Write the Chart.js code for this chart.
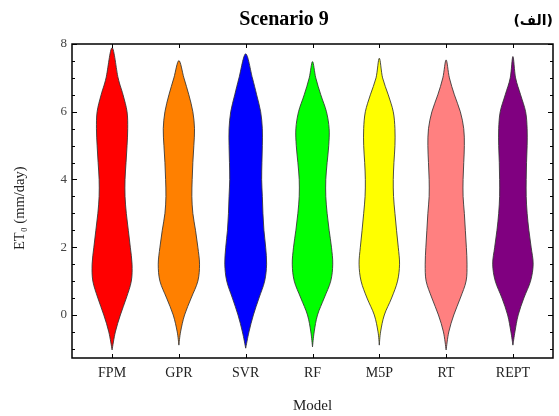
<!DOCTYPE html>
<html>
<head>
<meta charset="utf-8">
<script src="https://cdn.jsdelivr.net/npm/chart.js@4"></script>
<style>
  html, body { margin: 0; padding: 0; background: #fff; }
  #wrap { width: 559px; height: 416px; }
</style>
</head>
<body>
<div id="wrap"><canvas id="violinChart"></canvas></div>
<script>
// категории и цвета
const categories = ['FPM', 'GPR', 'SVR', 'RF', 'M5P', 'RT', 'REPT'];
const colors = ['#ff0000', '#ff8000', '#0000ff', '#00ff00', '#ffff00', '#ff8080', '#800080'];

// уровни ET0, на которых прочитана ширина (полуширина в единицах оси X)
const levels = [7.0, 6.5, 6.0, 5.5, 5.0, 4.5, 4.0, 3.5, 3.0, 2.5, 2.0, 1.5, 1.0, 0.5, 0.0, -0.5];
const topTips = [7.89, 7.51, 7.71, 7.48, 7.58, 7.53, 7.63];
const bottomTips = [-1.03, -0.89, -0.98, -0.94, -0.89, -1.03, -0.89];

const widthFPM  = [0.090, 0.164, 0.224, 0.234, 0.224, 0.209, 0.194, 0.194, 0.213, 0.243, 0.273, 0.299, 0.288, 0.213, 0.124, 0.049];
const widthGPR  = [0.075, 0.149, 0.209, 0.234, 0.224, 0.209, 0.199, 0.194, 0.209, 0.249, 0.284, 0.309, 0.284, 0.184, 0.085, 0.025];
const widthSVR  = [0.100, 0.164, 0.224, 0.249, 0.249, 0.243, 0.239, 0.249, 0.258, 0.273, 0.299, 0.313, 0.284, 0.199, 0.115, 0.049];
const widthRF   = [0.049, 0.124, 0.209, 0.249, 0.243, 0.219, 0.199, 0.199, 0.219, 0.249, 0.284, 0.303, 0.273, 0.175, 0.075, 0.025];
const widthM5P  = [0.049, 0.134, 0.209, 0.234, 0.234, 0.219, 0.209, 0.213, 0.234, 0.258, 0.284, 0.303, 0.273, 0.184, 0.075, 0.019];
const widthRT   = [0.049, 0.124, 0.213, 0.264, 0.273, 0.264, 0.254, 0.254, 0.273, 0.288, 0.303, 0.313, 0.299, 0.213, 0.115, 0.040];
const widthREPT = [0.040, 0.115, 0.190, 0.213, 0.213, 0.204, 0.199, 0.199, 0.213, 0.239, 0.273, 0.303, 0.264, 0.164, 0.079, 0.030];
const widths = [widthFPM, widthGPR, widthSVR, widthRF, widthM5P, widthRT, widthREPT];

const yTickValues = [-1, -0.5, 0, 0.5, 1, 1.5, 2, 2.5, 3, 3.5, 4, 4.5, 5, 5.5, 6, 6.5, 7, 7.5, 8];
const yLabels = ['0', '2', '4', '6', '8'];

const serif = "'Liberation Serif', 'DejaVu Serif', serif";

// сглаженный замкнутый контур (Catmull-Rom -> Bezier)
function smoothPath(ctx, pts) {
    ctx.moveTo(pts[0][0], pts[0][1]);
    for (let i = 0; i < pts.length - 1; i++) {
        const p0 = pts[Math.max(i - 1, 0)];
        const p1 = pts[i];
        const p2 = pts[i + 1];
        const p3 = pts[Math.min(i + 2, pts.length - 1)];
        const t = 0.5 / 3;
        ctx.bezierCurveTo(
            p1[0] + (p2[0] - p0[0]) * t, p1[1] + (p2[1] - p0[1]) * t,
            p2[0] - (p3[0] - p1[0]) * t, p2[1] - (p3[1] - p1[1]) * t,
            p2[0], p2[1]
        );
    }
}

const violinPlugin = {
    id: 'violins',
    beforeDatasetsDraw(chart) {
        const { ctx, scales: { x, y } } = chart;
        ctx.save();
        categories.forEach((cat, i) => {
            const cx = i + 1;
            const w = widths[i];
            // правая сторона снизу вверх, левая сверху вниз
            const pts = [[x.getPixelForValue(cx), y.getPixelForValue(bottomTips[i])]];
            for (let k = levels.length - 1; k >= 0; k--) {
                pts.push([x.getPixelForValue(cx + w[k]), y.getPixelForValue(levels[k])]);
            }
            pts.push([x.getPixelForValue(cx), y.getPixelForValue(topTips[i])]);
            for (let k = 0; k < levels.length; k++) {
                pts.push([x.getPixelForValue(cx - w[k]), y.getPixelForValue(levels[k])]);
            }
            pts.push([x.getPixelForValue(cx), y.getPixelForValue(bottomTips[i])]);
            ctx.beginPath();
            smoothPath(ctx, pts);
            ctx.closePath();
            ctx.fillStyle = colors[i];
            ctx.fill();
            ctx.lineWidth = 1;
            ctx.strokeStyle = 'rgba(50,50,50,0.85)';
            ctx.stroke();
        });
        ctx.restore();
    },
    afterDraw(chart) {
        const { ctx, chartArea: a, scales: { x, y } } = chart;
        ctx.save();
        ctx.strokeStyle = '#000';
        // рамка
        ctx.lineWidth = 1.5;
        ctx.strokeRect(a.left, a.top, a.right - a.left, a.bottom - a.top);
        // внутренние засечки
        ctx.lineWidth = 1;
        ctx.beginPath();
        yTickValues.forEach(v => {
            const py = Math.round(y.getPixelForValue(v)) + 0.5;
            const len = (v % 2 === 0) ? 5 : 3;
            ctx.moveTo(a.left, py); ctx.lineTo(a.left + len, py);
            ctx.moveTo(a.right, py); ctx.lineTo(a.right - len, py);
        });
        categories.forEach((c, i) => {
            const px = Math.round(x.getPixelForValue(i + 1)) + 0.5;
            ctx.moveTo(px, a.top); ctx.lineTo(px, a.top + 4);
            ctx.moveTo(px, a.bottom); ctx.lineTo(px, a.bottom - 4);
        });
        ctx.stroke();
        // подпись (الف)
        ctx.fillStyle = '#000';
        ctx.font = "bold 14px 'DejaVu Sans', sans-serif";
        ctx.textAlign = 'right';
        ctx.textBaseline = 'middle';
        ctx.fillText('(الف)', 553, 21);
        ctx.restore();
    }
};

const chart = new Chart(document.getElementById('violinChart'), {
    type: 'scatter',
    data: { datasets: [] },
    options: {
        responsive: true,
        maintainAspectRatio: false,
        animation: false,
        layout: { padding: { top: 0, right: 6, left: 0, bottom: 0 } },
        plugins: {
            legend: { display: false },
            tooltip: { enabled: false },
            title: {
                display: true,
                text: '   Scenario 9',
                color: '#000',
                font: { family: serif, size: 20, weight: 'bold', lineHeight: 1.2 },
                padding: { top: 8, bottom: 12 }
            }
        },
        scales: {
            x: {
                type: 'linear',
                min: 0.4,
                max: 7.6,
                afterBuildTicks: axis => { axis.ticks = categories.map((c, i) => ({ value: i + 1 })); },
                afterFit: scale => { scale.height = 58; },
                grid: { display: false, drawTicks: false },
                border: { display: false },
                ticks: {
                    color: '#222',
                    padding: 7,
                    maxRotation: 0,
                    autoSkip: false,
                    font: { family: serif, size: 14 },
                    callback: v => categories[Math.round(v) - 1]
                },
                title: {
                    display: true,
                    text: 'Model',
                    color: '#222',
                    font: { family: serif, size: 15 },
                    padding: { top: 0, bottom: 1 }
                }
            },
            y: {
                min: -1.27,
                max: 8,
                afterBuildTicks: axis => { axis.ticks = yTickValues.map(v => ({ value: v })); },
                afterFit: scale => { scale.width = 72; },
                grid: { display: false, drawTicks: false },
                border: { display: false },
                ticks: {
                    color: '#444',
                    padding: 5,
                    autoSkip: false,
                    font: { family: serif, size: 13 },
                    callback: v => (v % 2 === 0 ? yLabels[v / 2] : '')
                },
                title: {
                    display: true,
                    text: 'ET₀ (mm/day)    ',
                    color: '#222',
                    font: { family: serif, size: 14.5 },
                    padding: { top: 11, bottom: 0 }
                }
            }
        }
    },
    plugins: [violinPlugin]
});
</script>
</body>
</html>
